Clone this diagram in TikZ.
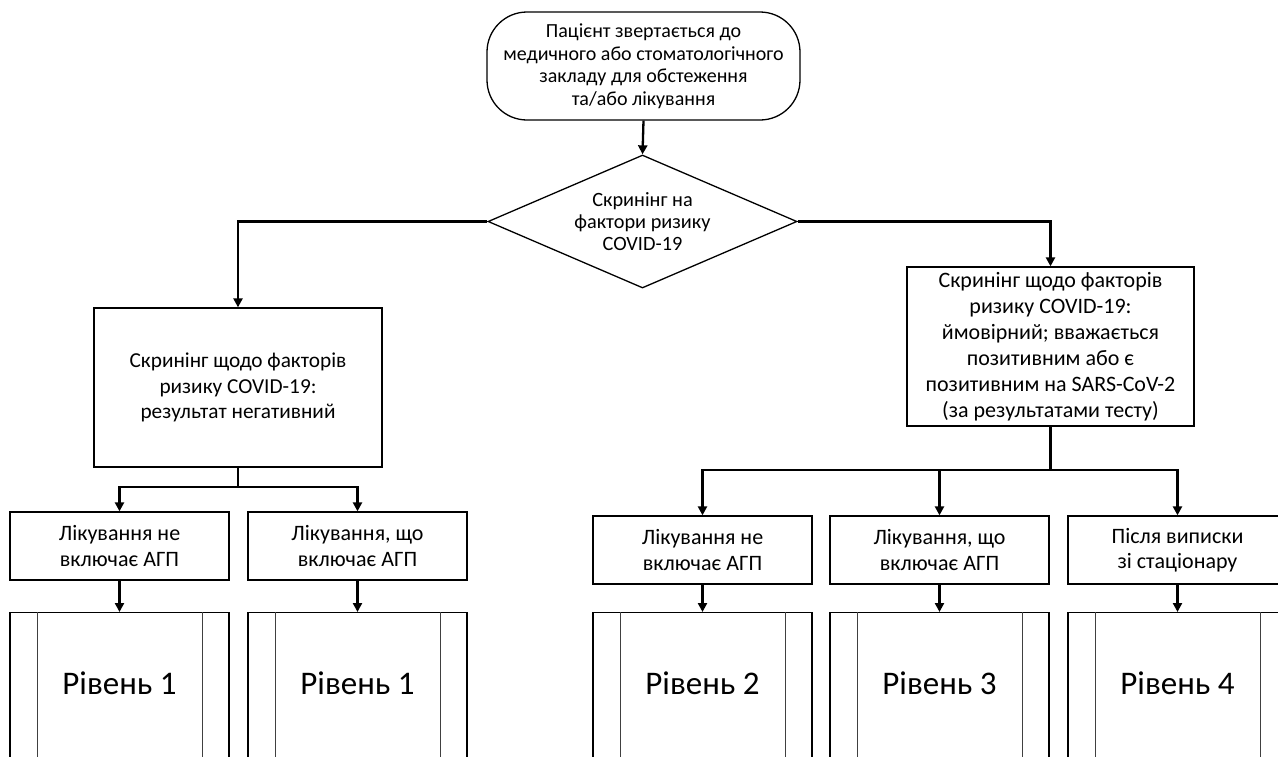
\documentclass[tikz,border=0pt]{standalone}
\usepackage{fontspec}
\setmainfont{Carlito}
\usetikzlibrary{shapes.geometric,arrows.meta}
\begin{document}
\begin{tikzpicture}[x=1pt,y=-1pt,
  box/.style={draw=black, line width=1.3pt, inner sep=0pt, align=center, fill=white},
  toptxt/.style={font=\fontsize{20}{22.5}\selectfont},
  diatxt/.style={font=\fontsize{20.3}{22}\selectfont},
  boxtxt/.style={font=\fontsize{21.3}{25.5}\selectfont},
  rboxtxt/.style={font=\fontsize{22}{26}\selectfont},
  smalltxt/.style={font=\fontsize{22}{25.5}\selectfont},
  conn/.style={draw=black, line width=2.3pt},
  arr/.style={conn, -{Triangle[length=9pt,width=9pt]}},
  levelbox/.style={box, minimum width=219pt, minimum height=200pt, anchor=north},
  leveltxt/.style={font=\fontsize{33}{38}\selectfont, inner sep=0pt},
  inner/.style={draw=black!75, line width=1.2pt}]
\useasboundingbox (0,0) rectangle (1278,756);
\clip (0,0) rectangle (1278,756);
\fill[white] (0,0) rectangle (1278,756);

% start terminal
\node[box, toptxt, rounded corners=40pt, minimum width=313pt, minimum height=108pt] (start) at (643.5,66)
  {Пацієнт звертається до\\медичного або стоматологічного\\закладу для обстеження\\та/або лікування};

% decision
\node[box, diatxt, diamond, aspect=2.3, minimum width=309pt, minimum height=133pt] (dia) at (642.5,221.5)
  {Скринінг на\\фактори ризику\\COVID-19};

% branch boxes
\node[box, boxtxt, minimum width=288pt, minimum height=159pt] (lbox) at (238,387.5)
  {Скринінг щодо факторів\\ризику COVID-19:\\результат негативний};
\node[box, rboxtxt, minimum width=287pt, minimum height=159pt] (rbox) at (1050.5,346.5)
  {Скринінг щодо факторів\\ризику COVID-19:\\ймовірний; вважається\\позитивним або є\\позитивним на SARS-CoV-2\\(за результатами тесту)};

% treatment boxes
\node[box, smalltxt, minimum width=219pt, minimum height=68pt] (a1) at (119.5,546) {Лікування не\\включає АГП};
\node[box, smalltxt, minimum width=219pt, minimum height=68pt] (a2) at (357.5,546) {Лікування, що\\включає АГП};
\node[box, smalltxt, minimum width=219pt, minimum height=68pt] (b1) at (702.5,550) {Лікування не\\включає АГП};
\node[box, smalltxt, minimum width=219pt, minimum height=68pt] (b2) at (939.5,550) {Лікування, що\\включає АГП};
\node[box, smalltxt, minimum width=219pt, minimum height=68pt] (b3) at (1177.5,550) {Після виписки\\зі стаціонару};

% level boxes (predefined process)
\foreach \n/\x/\t in {l1/119.5/1, l2/357.5/1, m1/702.5/2, m2/939.5/3, m3/1177.5/4}{
  \node[levelbox] (\n) at (\x,612) {};
  \draw[inner] ([xshift=28pt]\n.north west) -- ([xshift=28pt]\n.south west);
  \draw[inner] ([xshift=-27pt]\n.north east) -- ([xshift=-27pt]\n.south east);
  \node[leveltxt] (\n t) at (\x,683) {Рівень \t};
}

% connectors
\draw[arr] (start.south) -- (dia.north);
\draw[arr] (dia.west) -| (lbox.north);
\draw[arr] (dia.east) -| (rbox.north);

\coordinate (lj) at (238,487);
\draw[conn] (lbox.south) -- (lj);
\draw[arr] (lj) -| (a1.north);
\draw[arr] (lj) -| (a2.north);

\coordinate (rj) at (1050.5,470);
\draw[conn] (rbox.south) -- (rj);
\draw[arr] (rj) -| (b1.north);
\draw[arr] (rj) -| (b2.north);
\draw[arr] (rj) -| (b3.north);

\draw[arr] (a1.south) -- (l1.north);
\draw[arr] (a2.south) -- (l2.north);
\draw[arr] (b1.south) -- (m1.north);
\draw[arr] (b2.south) -- (m2.north);
\draw[arr] (b3.south) -- (m3.north);
\end{tikzpicture}
\end{document}
